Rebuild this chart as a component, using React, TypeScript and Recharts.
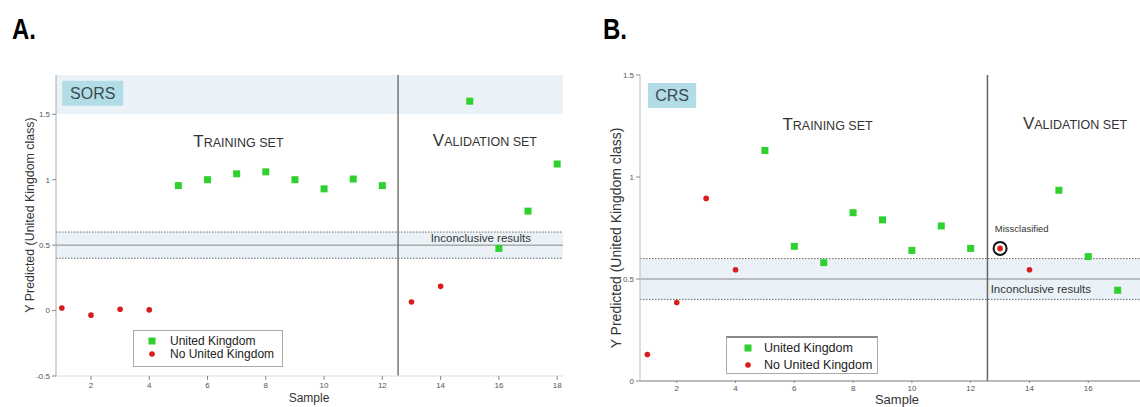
import React from 'react';
import {
  ScatterChart,
  Scatter,
  XAxis,
  YAxis,
  ReferenceArea,
  ReferenceLine,
  ReferenceDot,
  Legend,
} from 'recharts';

const FONT = '"Liberation Sans", Arial, Helvetica, sans-serif';

// ---- Panel A (SORS) ----
const sorsUkSamples = [5, 6, 7, 8, 9, 10, 11, 12, 15, 16, 17, 18];
const sorsUkValues = [0.955, 1.0, 1.045, 1.06, 1.0, 0.93, 1.005, 0.955, 1.6, 0.475, 0.76, 1.12];
const sorsNoUkSamples = [1, 2, 3, 4, 13, 14];
const sorsNoUkValues = [0.02, -0.035, 0.01, 0.005, 0.065, 0.185];
const sorsXTicks = [2, 4, 6, 8, 10, 12, 14, 16, 18];
const sorsYTicks = [-0.5, 0, 0.5, 1, 1.5];

// ---- Panel B (CRS) ----
const crsUkSamples = [5, 6, 7, 8, 9, 10, 11, 12, 15, 16, 17];
const crsUkValues = [1.13, 0.66, 0.58, 0.825, 0.79, 0.64, 0.76, 0.65, 0.935, 0.61, 0.445];
const crsNoUkSamples = [1, 2, 3, 4, 13, 14];
const crsNoUkValues = [0.13, 0.385, 0.895, 0.545, 0.65, 0.545];
const crsMissSamples = [13];
const crsMissValues = [0.65];
const crsXTicks = [2, 4, 6, 8, 10, 12, 14, 16];
const crsYTicks = [0, 0.5, 1, 1.5];

const seriesNames = ['United Kingdom', 'No United Kingdom'];

const toPoints = (xs: number[], ys: number[]) => xs.map((x, i) => ({ x, y: ys[i] }));

const GREEN = '#2fd12f';
const RED = '#d81c1c';
const BAND = '#eaf2f8';
const BOXFILL = '#b2dde6';

const SquareShape = (p: any) => (
  <rect x={p.cx - 3.5} y={p.cy - 3.5} width={7} height={7} fill={GREEN} />
);
const DotShape = (p: any) => <circle cx={p.cx} cy={p.cy} r={2.8} fill={RED} />;
const RingShape = (p: any) => (
  <circle cx={p.cx} cy={p.cy} r={6.5} fill="none" stroke="#111" strokeWidth={2} />
);

const SmallCaps = ({ x, y, big, rest }: any) => (
  <text x={x} y={y} textAnchor="middle" fill="#333" fontFamily={FONT}>
    <tspan fontSize={17}>{big}</tspan>
    <tspan fontSize={12.5}>{rest}</tspan>
  </text>
);

const PlainText = ({ x, y, text, size, anchor }: any) => (
  <text x={x} y={y} textAnchor={anchor || 'middle'} fill="#333" fontFamily={FONT} fontSize={size}>
    {text}
  </text>
);

const LegendBox = ({ fontSize, iconX, textX, rowY, borderTop }: any) => (
  <div
    style={{
      width: '100%',
      height: '100%',
      boxSizing: 'border-box',
      border: '1px solid #aaa',
      borderTop: borderTop,
      background: '#fff',
      position: 'relative',
      fontFamily: FONT,
      fontSize,
      color: '#222',
    }}
  >
    {seriesNames.map((n, i) => (
      <div
        key={n}
        style={{ position: 'absolute', left: 0, top: rowY[i] - 8, height: 16, width: '100%' }}
      >
        <svg width={12} height={16} style={{ position: 'absolute', left: iconX - 6, top: 0 }}>
          {i === 0 ? (
            <rect x={2.5} y={4.5} width={7} height={7} fill={GREEN} />
          ) : (
            <circle cx={6} cy={8} r={2.8} fill={RED} />
          )}
        </svg>
        <span style={{ position: 'absolute', left: textX, top: 0, lineHeight: '16px', whiteSpace: 'nowrap' }}>
          {n}
        </span>
      </div>
    ))}
  </div>
);

const tickStyle = { fontSize: 8, fill: '#555', fontFamily: FONT };

const PanelA = () => (
  <ScatterChart width={600} height={407} margin={{ top: 75, right: 37, bottom: 0, left: 0 }}>
    <XAxis
      type="number"
      dataKey="x"
      domain={[0.8, 18.2]}
      ticks={sorsXTicks}
      allowDataOverflow
      height={31}
      tick={tickStyle}
      tickSize={4}
      tickLine={{ stroke: '#888' }}
      axisLine={{ stroke: '#ddd' }}
      label={(p: any) => (
        <text x={309} y={402} textAnchor="middle" fontFamily={FONT} fontSize={12} fill="#333">
          Sample
        </text>
      )}
    />
    <XAxis
      xAxisId="top"
      orientation="top"
      type="number"
      domain={[0.8, 18.2]}
      ticks={sorsXTicks}
      allowDataOverflow
      mirror
      height={0}
      tick={false}
      tickSize={4}
      tickLine={{ stroke: '#888' }}
      axisLine={{ stroke: '#aaa' }}
    />
    <YAxis
      type="number"
      dataKey="y"
      domain={[-0.5, 1.8]}
      ticks={sorsYTicks}
      allowDataOverflow
      width={56}
      tick={tickStyle}
      tickSize={4}
      tickLine={{ stroke: '#888' }}
      axisLine={{ stroke: '#aaa' }}
      label={(p: any) => (
        <text
          transform="translate(30,215) rotate(-90)"
          textAnchor="middle"
          dominantBaseline="central"
          fontFamily={FONT}
          fontSize={12.4}
          fill="#333"
        >
          Y Predicted (United Kingdom class)
        </text>
      )}
    />
    <YAxis
      yAxisId="right"
      orientation="right"
      type="number"
      domain={[-0.5, 1.8]}
      ticks={sorsYTicks}
      allowDataOverflow
      mirror
      width={0}
      tick={false}
      tickSize={4}
      tickLine={{ stroke: '#888' }}
      axisLine={{ stroke: '#aaa' }}
    />
    <ReferenceArea y1={1.5} y2={1.8} fill={BAND} fillOpacity={1} stroke="none" />
    <ReferenceArea y1={0.4} y2={0.6} fill={BAND} fillOpacity={1} stroke="none" />
    <ReferenceArea
      x1={1.01}
      x2={3.11}
      y1={1.565}
      y2={1.756}
      fill={BOXFILL}
      fillOpacity={1}
      stroke="none"
      label={{ value: 'SORS', position: 'center', fontSize: 16, fill: '#3a4a50', fontFamily: FONT }}
    />
    <ReferenceLine y={0.6} stroke="#666" strokeDasharray="1.5 1.5" />
    <ReferenceLine y={0.4} stroke="#666" strokeDasharray="1.5 1.5" />
    <ReferenceLine y={0.5} stroke="#888" />
    <ReferenceLine x={12.54} stroke="#777" strokeWidth={1.5} />
    <ReferenceDot
      x={7.06}
      y={1.25}
      r={0}
      shape={(p: any) => <SmallCaps x={p.cx} y={p.cy} big="T" rest="RAINING SET" />}
    />
    <ReferenceDot
      x={15.52}
      y={1.255}
      r={0}
      shape={(p: any) => <SmallCaps x={p.cx} y={p.cy} big="V" rest="ALIDATION SET" />}
    />
    <ReferenceDot
      x={15.38}
      y={0.525}
      r={0}
      shape={(p: any) => <PlainText x={p.cx} y={p.cy} text="Inconclusive results" size={11.5} />}
    />
    <Scatter
      name={seriesNames[0]}
      data={toPoints(sorsUkSamples, sorsUkValues)}
      shape={SquareShape}
      isAnimationActive={false}
    />
    <Scatter
      name={seriesNames[1]}
      data={toPoints(sorsNoUkSamples, sorsNoUkValues)}
      shape={DotShape}
      isAnimationActive={false}
    />
    <Legend
      layout="vertical"
      align="center"
      verticalAlign="middle"
      wrapperStyle={{ position: 'absolute', left: 133, top: 330, width: 150, height: 37 }}
      content={() => (
        <LegendBox fontSize={12} iconX={18} textX={36} rowY={[10, 23]} borderTop="1px solid #aaa" />
      )}
    />
  </ScatterChart>
);

const PanelB = () => (
  <ScatterChart width={560} height={407} margin={{ top: 75, right: 0, bottom: 0, left: 0 }}>
    <XAxis
      type="number"
      dataKey="x"
      domain={[0.75, 17.76]}
      ticks={crsXTicks}
      allowDataOverflow
      height={26}
      tick={tickStyle}
      tickSize={2}
      tickLine={{ stroke: '#888' }}
      axisLine={{ stroke: '#777' }}
      label={(p: any) => (
        <text x={317} y={404} textAnchor="middle" fontFamily={FONT} fontSize={13} fill="#333">
          Sample
        </text>
      )}
    />
    <XAxis
      xAxisId="top"
      orientation="top"
      type="number"
      domain={[0.75, 17.76]}
      ticks={crsXTicks}
      allowDataOverflow
      mirror
      height={0}
      tick={false}
      tickSize={4}
      tickLine={{ stroke: '#888' }}
      axisLine={{ stroke: '#bbb' }}
    />
    <YAxis
      type="number"
      dataKey="y"
      domain={[0, 1.5]}
      ticks={crsYTicks}
      allowDataOverflow
      width={60}
      tick={tickStyle}
      tickSize={4}
      tickLine={{ stroke: '#888' }}
      axisLine={{ stroke: '#bbb' }}
      label={(p: any) => (
        <text
          transform="translate(36,238) rotate(-90)"
          textAnchor="middle"
          dominantBaseline="central"
          fontFamily={FONT}
          fontSize={14}
          fill="#333"
        >
          Y Predicted (United Kingdom class)
        </text>
      )}
    />
    <ReferenceArea y1={0.4} y2={0.6} fill={BAND} fillOpacity={1} stroke="none" />
    <ReferenceArea
      x1={1.02}
      x2={2.66}
      y1={1.338}
      y2={1.461}
      fill={BOXFILL}
      fillOpacity={1}
      stroke="none"
      label={{ value: 'CRS', position: 'center', fontSize: 16, fill: '#3a4a50', fontFamily: FONT }}
    />
    <ReferenceLine y={0.6} stroke="#666" strokeDasharray="1.5 1.5" />
    <ReferenceLine y={0.4} stroke="#666" strokeDasharray="1.5 1.5" />
    <ReferenceLine y={0.5} stroke="#888" />
    <ReferenceLine x={12.57} stroke="#666" strokeWidth={1.5} />
    <ReferenceDot
      x={7.13}
      y={1.23}
      r={0}
      shape={(p: any) => <SmallCaps x={p.cx} y={p.cy} big="T" rest="RAINING SET" />}
    />
    <ReferenceDot
      x={15.55}
      y={1.235}
      r={0}
      shape={(p: any) => <SmallCaps x={p.cx} y={p.cy} big="V" rest="ALIDATION SET" />}
    />
    <ReferenceDot
      x={12.82}
      y={0.73}
      r={0}
      shape={(p: any) => <PlainText x={p.cx} y={p.cy} text="Missclasified" size={9.5} anchor="start" />}
    />
    <ReferenceDot
      x={12.68}
      y={0.43}
      r={0}
      shape={(p: any) => (
        <PlainText x={p.cx} y={p.cy} text="Inconclusive results" size={11.5} anchor="start" />
      )}
    />
    <Scatter
      name={seriesNames[0]}
      data={toPoints(crsUkSamples, crsUkValues)}
      shape={SquareShape}
      isAnimationActive={false}
    />
    <Scatter
      name={seriesNames[1]}
      data={toPoints(crsNoUkSamples, crsNoUkValues)}
      shape={DotShape}
      isAnimationActive={false}
    />
    <Scatter
      name="Missclasified"
      data={toPoints(crsMissSamples, crsMissValues)}
      shape={RingShape}
      isAnimationActive={false}
    />
    <Legend
      layout="vertical"
      align="center"
      verticalAlign="middle"
      wrapperStyle={{ position: 'absolute', left: 146, top: 336, width: 152, height: 38 }}
      content={() => (
        <LegendBox
          fontSize={12.5}
          iconX={21}
          textX={37}
          rowY={[10, 27]}
          borderTop="2px solid #888"
        />
      )}
    />
  </ScatterChart>
);

const Title = ({ x, text }: any) => (
  <svg width={60} height={50} style={{ position: 'absolute', left: x, top: 0 }}>
    <text
      x={0}
      y={39}
      fontFamily={FONT}
      fontWeight="bold"
      fontSize={29}
      fill="#000"
      textLength={24}
      lengthAdjust="spacingAndGlyphs"
    >
      {text}
    </text>
  </svg>
);

export default function App() {
  return (
    <div
      style={{
        position: 'absolute',
        left: 0,
        top: 0,
        width: 1140,
        height: 407,
        overflow: 'hidden',
        background: '#fff',
      }}
    >
      <Title x={12} text="A." />
      <Title x={603} text="B." />
      <div style={{ position: 'absolute', left: 0, top: 0 }}>
        <PanelA />
      </div>
      <div style={{ position: 'absolute', left: 580, top: 0 }}>
        <PanelB />
      </div>
    </div>
  );
}
